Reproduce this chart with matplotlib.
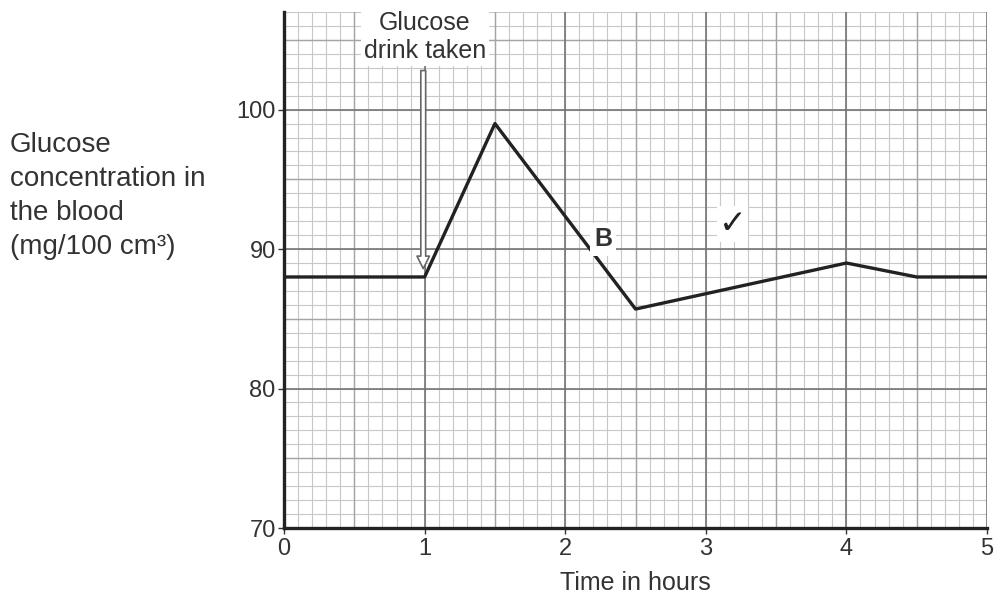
import numpy as np
import matplotlib.pyplot as plt

# data
time_h = [0, 1, 1.5, 2.5, 4, 4.5, 5]
glucose = [88, 88, 99, 85.7, 89, 88, 88]
x_ticks = [0, 1, 2, 3, 4, 5]
y_ticks = [70, 80, 90, 100]

plt.rcParams['font.family'] = ['Liberation Sans', 'DejaVu Sans']

fig = plt.figure(figsize=(9.97, 5.99), dpi=100)
ax = fig.add_axes([0.2849, 0.1185, 0.7051, 0.8615])
ax.set_xlim(0, 5)
ax.set_ylim(70, 107)

# graph paper: fine, medium, major lines
for v in np.arange(0, 5.001, 0.1):
    ax.axvline(v, color='#c8c8c8', lw=0.8, zorder=0)
for v in np.arange(70, 107.01, 1):
    ax.axhline(v, color='#c8c8c8', lw=0.8, zorder=0)
for v in np.arange(0.5, 5, 1):
    ax.axvline(v, color='#a4a4a4', lw=1.0, zorder=0)
for v in np.arange(75, 107, 10):
    ax.axhline(v, color='#a4a4a4', lw=1.0, zorder=0)
for v in x_ticks[1:]:
    ax.axvline(v, color='#747474', lw=1.2, zorder=0)
for v in y_ticks[1:]:
    ax.axhline(v, color='#747474', lw=1.2, zorder=0)

ax.plot(time_h, glucose, color='#222222', lw=2.4, zorder=3)

for s in ['top', 'right']:
    ax.spines[s].set_visible(False)
for s in ['left', 'bottom']:
    ax.spines[s].set_linewidth(2.4)
    ax.spines[s].set_color('#222222')

ax.set_xticks(x_ticks)
ax.set_yticks(y_ticks)
ax.tick_params(labelsize=17, colors='#333333', length=4, width=1, pad=2)
ax.tick_params(axis='x', pad=3)

ax.set_xlabel('Time in hours', fontsize=18, color='#333333', labelpad=8)
fig.text(0.01, 0.78, 'Glucose\nconcentration in\nthe blood\n(mg/100 cm\u00b3)',
         fontsize=20, color='#333333', va='top', ha='left', linespacing=1.4)

# glucose drink arrow
ax.annotate('', xy=(0.99, 88.4), xytext=(0.99, 103.0),
            arrowprops=dict(arrowstyle='simple,head_width=0.9,head_length=0.9,tail_width=0.35',
                            fc='white', ec='#666666', lw=1.2), zorder=4)
ax.text(1.0, 105.2, 'Glucose\ndrink taken', fontsize=18, color='#333333',
        ha='center', va='center', linespacing=1.25, zorder=5,
        bbox=dict(fc='white', ec='none', pad=2))

ax.text(2.27, 90.7, 'B', fontsize=18, fontweight='bold', color='#333333',
        ha='center', va='center', zorder=5, bbox=dict(fc='white', ec='none', pad=3))
ax.text(3.19, 91.8, '\u2713', fontsize=24, fontweight='bold', color='#222222',
        family=['DejaVu Sans'], ha='center', va='center', zorder=5,
        bbox=dict(fc='white', ec='none', pad=1))

fig.savefig('out.png', dpi=100)
